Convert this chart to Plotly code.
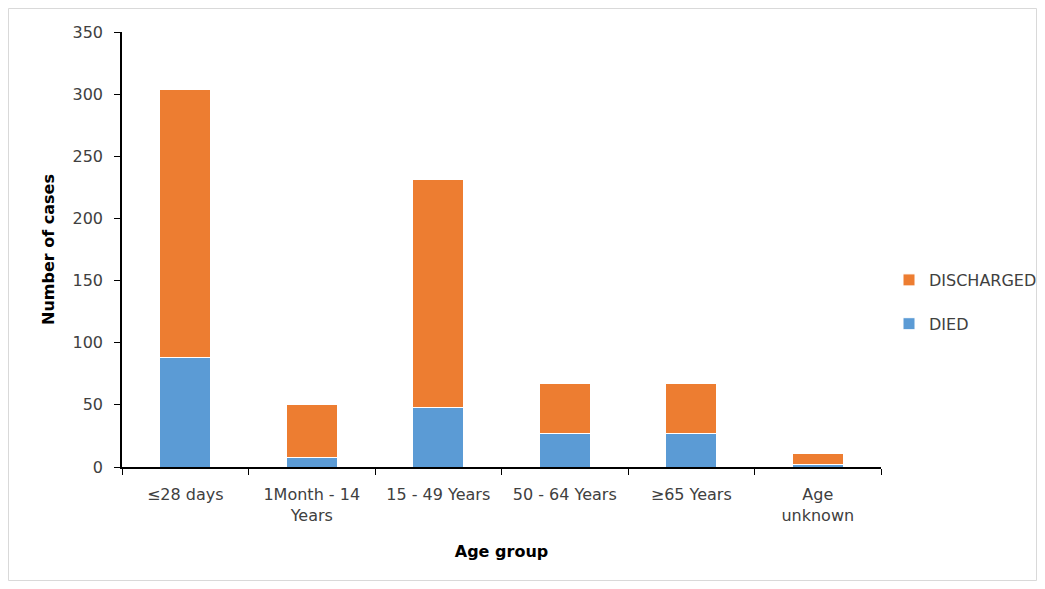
import plotly.graph_objects as go

categories = ["≤28 days", "1Month - 14<br>Years", "15 - 49 Years", "50 - 64 Years", "≥65 Years", "Age<br>unknown"]
died = [88, 8, 48, 27, 27, 2]
discharged = [216, 42, 183, 40, 40, 9]
y_ticks = [0, 50, 100, 150, 200, 250, 300, 350]

FONT = "DejaVu Sans, Verdana, sans-serif"
W, H = 1029, 573          # page body has an 8px margin
OFF = 8
L, T, R, B = 122 - OFF, 32 - OFF, 881 - OFF, 467 - OFF   # plot area in figure px
PW, PH = R - L, B - T

fig = go.Figure()
fig.add_trace(go.Bar(x=categories, y=died, name="DIED", legendgroup="died", legendrank=2,
                     marker=dict(color="#5B9BD5", line=dict(color="white", width=1))))
fig.add_trace(go.Bar(x=categories, y=discharged, name="DISCHARGED", legendgroup="dis", legendrank=1,
                     marker=dict(color="#ED7D31", line=dict(color="white", width=1))))

def px_x(x):
    return (x - OFF - L) / PW

def px_y(y):
    return (B - (y - OFF)) / PH

fig.update_layout(
    barmode="stack",
    bargap=0.6,
    width=W, height=H,
    margin=dict(l=L, r=W - R, t=T, b=H - B, autoexpand=False),
    paper_bgcolor="white", plot_bgcolor="white",
    font=dict(family=FONT, size=16, color="#404040"),
    legend=dict(x=px_x(889), y=px_y(302),
                xanchor="left", yanchor="middle",
                traceorder="grouped", tracegroupgap=20,
                bgcolor="rgba(0,0,0,0)",
                font=dict(size=16, color="#404040")),
    xaxis=dict(showline=True, linecolor="black", linewidth=1.5,
               ticks="outside", tickson="boundaries", ticklen=6, tickcolor="black",
               ticklabelstandoff=12,
               showgrid=False, tickfont=dict(size=16, color="#404040"),
               title=dict(text="<b>Age group</b>", font=dict(size=16, color="black"), standoff=22)),
    yaxis=dict(range=[0, 350], tickvals=y_ticks, showline=True, linecolor="black", linewidth=1.5,
               ticks="outside", ticklen=6, tickcolor="black", showgrid=False, zeroline=False,
               ticklabelstandoff=8,
               tickfont=dict(size=16, color="#404040"),
               title=dict(text="<b>Number of cases</b>", font=dict(size=16, color="black"), standoff=14)),
    shapes=[dict(type="rect", xref="paper", yref="paper",
                 x0=px_x(8.5), x1=px_x(1036.5),
                 y0=px_y(580.5), y1=px_y(8.5),
                 line=dict(color="#D9D9D9", width=1), layer="below")],
)

fig.write_html("out.html")
